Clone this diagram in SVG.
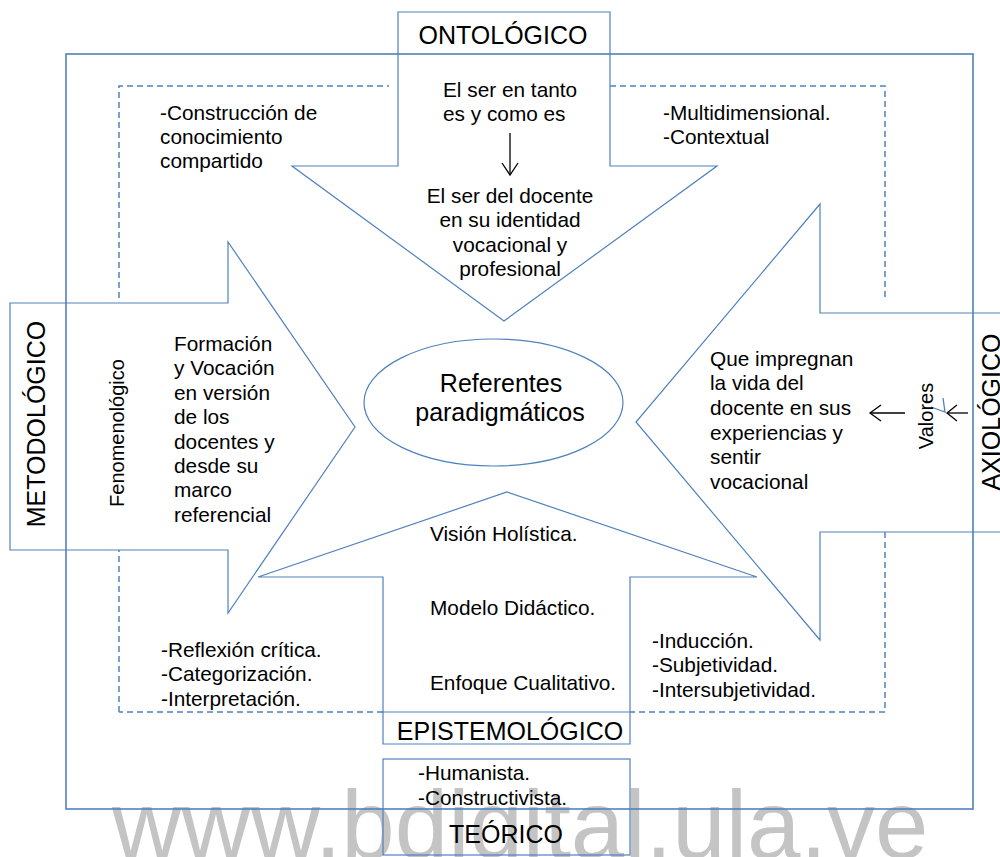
<svg xmlns="http://www.w3.org/2000/svg" width="1000" height="857" viewBox="0 0 1000 857">
  <defs>
    <style>
      .shape { fill: none; stroke: #4f81bd; stroke-width: 1.2; }
      .frame { fill: none; stroke: #4f81bd; stroke-width: 1.6; }
      .dash { fill: none; stroke: #4f81bd; stroke-width: 1.5; stroke-dasharray: 6 4; }
      .t { font-family: "Liberation Sans", Arial, sans-serif; font-size: 20.8px; fill: #000; }
      .lbl { font-family: "Liberation Sans", Arial, sans-serif; font-size: 25px; fill: #000; }
      .c { text-anchor: middle; }
      .blk { fill: none; stroke: #000; stroke-width: 1.3; }
      .wm { font-family: "Liberation Sans", Arial, sans-serif; font-size: 96px; fill: #c4c4c4; }
    </style>
  </defs>
  <rect width="1000" height="857" fill="#ffffff"/>
  <text class="wm" x="112" y="858">www.bdigital.ula.ve</text>

  <g id="connectors">
    <rect class="frame" x="66" y="54" width="907" height="755"/>
    <path class="dash" d="M119,712 V550 M119,298 V86 H389 M610,86 H885 V298 M885,532 V712 H630 M383,712 H119"/>
    <line class="blk" x1="510" y1="133" x2="510" y2="175"/>
    <polyline class="blk" points="502,163 510,175 518,163"/>
    <line class="blk" x1="905" y1="413" x2="870" y2="413"/>
    <polyline class="blk" points="881,405 870,413 881,421"/>
    <line class="blk" x1="968" y1="413" x2="947" y2="413"/>
    <polyline class="blk" points="957,405 947,413 957,421"/>
    <polyline points="931,407 945,412 943,398" fill="none" stroke="#4f81bd" stroke-width="1.3"/>
  </g>

  <g id="ontologico">
    <polygon class="shape" points="398,12 610,12 610,166 717,166 504,321 292,166 398,166"/>
    <text class="lbl c" x="503" y="44">ONTOLÓGICO</text>
    <text class="t" x="443" y="97">El ser en tanto</text>
    <text class="t" x="443" y="121">es y como es</text>
    <text class="t c" x="510" y="203">El ser del docente</text>
    <text class="t c" x="510" y="227">en su identidad</text>
    <text class="t c" x="510" y="252">vocacional y</text>
    <text class="t c" x="510" y="276">profesional</text>
  </g>

  <g id="metodologico">
    <polygon class="shape" points="10,303 228,303 228,242 355,427 228,613 228,550 10,550"/>
    <text class="lbl c" transform="translate(45,424) rotate(-90)">METODOLÓGICO</text>
    <text class="t c" style="font-size:20px" transform="translate(124,433) rotate(-90)">Fenomenológico</text>
    <text class="t" x="174" y="351">Formación</text>
    <text class="t" x="174" y="375">y Vocación</text>
    <text class="t" x="174" y="400">en versión</text>
    <text class="t" x="174" y="424">de los</text>
    <text class="t" x="174" y="449">docentes y</text>
    <text class="t" x="174" y="473">desde su</text>
    <text class="t" x="174" y="497">marco</text>
    <text class="t" x="174" y="522">referencial</text>
  </g>

  <g id="axiologico">
    <polygon class="shape" points="1010,313 820,313 820,204 636,422 820,640 820,532 1010,532"/>
    <text class="lbl c" transform="translate(1000,412) rotate(-90)">AXIOLÓGICO</text>
    <text class="t c" style="font-size:20px" transform="translate(933,416) rotate(-90)">Valores</text>
    <text class="t" x="710" y="366">Que impregnan</text>
    <text class="t" x="710" y="390">la vida del</text>
    <text class="t" x="710" y="415">docente en sus</text>
    <text class="t" x="710" y="440">experiencias y</text>
    <text class="t" x="710" y="464">sentir</text>
    <text class="t" x="710" y="489">vocacional</text>
  </g>

  <g id="epistemologico">
    <polygon class="shape" points="383,744 383,577 258,577 507,492 757,577 630,577 630,744"/>
    <line class="shape" x1="383" y1="712" x2="630" y2="712"/>
    <text class="lbl c" x="510" y="740">EPISTEMOLÓGICO</text>
    <text class="t" x="430" y="541">Visión Holística.</text>
    <text class="t" x="430" y="615">Modelo Didáctico.</text>
    <text class="t" x="430" y="690">Enfoque Cualitativo.</text>
  </g>

  <g id="referentes">
    <ellipse class="shape" cx="493.5" cy="402.5" rx="129.5" ry="63.5"/>
    <text class="lbl c" x="501" y="392">Referentes</text>
    <text class="lbl c" x="500" y="421">paradigmáticos</text>
  </g>

  <g id="teorico">
    <rect class="shape" x="383" y="759" width="247" height="96"/>
    <text class="t" x="418" y="780">-Humanista.</text>
    <text class="t" x="418" y="805">-Constructivista.</text>
    <text class="lbl c" x="506" y="843">TEÓRICO</text>
  </g>

  <g id="notes">
    <text class="t" x="160" y="120">-Construcción de</text>
    <text class="t" x="160" y="144">conocimiento</text>
    <text class="t" x="160" y="168">compartido</text>
    <text class="t" x="663" y="120">-Multidimensional.</text>
    <text class="t" x="663" y="144">-Contextual</text>
    <text class="t" x="161" y="657">-Reflexión crítica.</text>
    <text class="t" x="161" y="681">-Categorización.</text>
    <text class="t" x="161" y="706">-Interpretación.</text>
    <text class="t" x="652" y="648">-Inducción.</text>
    <text class="t" x="652" y="672">-Subjetividad.</text>
    <text class="t" x="652" y="697">-Intersubjetividad.</text>
  </g>
</svg>
